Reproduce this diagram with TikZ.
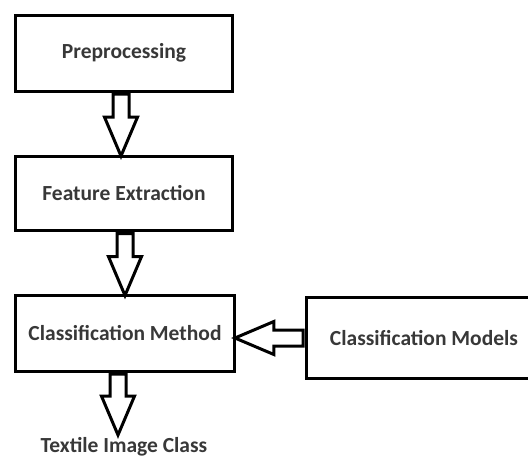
\documentclass[tikz,border=0pt]{standalone}
\usepackage{fontspec}
\setmainfont{Carlito}
\usetikzlibrary{shapes.arrows, calc}

\tikzset{
	box/.style={draw, line width=3pt, minimum width=217pt, minimum height=76pt,
		font=\fontsize{21.5}{24}\selectfont\bfseries, text=black!78, inner sep=0pt},
	hollow/.style={single arrow, draw, line width=3pt, fill=white, inner sep=6.5pt,
		single arrow head extend=8.5pt, single arrow tip angle=46, anchor=tail}
}

\begin{document}
\begin{tikzpicture}[x=1pt, y=-1pt]
		\useasboundingbox (0,0) rectangle (528,459);
		\clip (0,0) rectangle (528,459);
		\node [box] (pre) at (124,53) {Preprocessing};
		\node [box, minimum height=74pt] (feat) at (124,193.5) {Feature Extraction};
		\node [box, minimum width=219pt] (cls) at (125,333) {Classification Method};
		\node [box, minimum width=236pt, minimum height=81pt] (mdl) at (424,338) {Classification Models};
		\node [font=\fontsize{21.5}{24}\selectfont\bfseries, text=black!78] (out) at (124,447) {Textile Image Class};
		\node [hollow, minimum height=62pt, shape border rotate=270] (a1)
		at ($(pre.south)+(-3,0)$) {};
		\node [hollow, minimum height=62pt, shape border rotate=270] (a2)
		at ($(feat.south)+(1,0)$) {};
		\node [hollow, minimum height=61pt, shape border rotate=270] (a3)
		at ($(cls.south)+(-7,0)$) {};
		\node [hollow, minimum height=68pt, shape border rotate=180] (a4)
		at (mdl.west) {};
	\end{tikzpicture}
\end{document}
